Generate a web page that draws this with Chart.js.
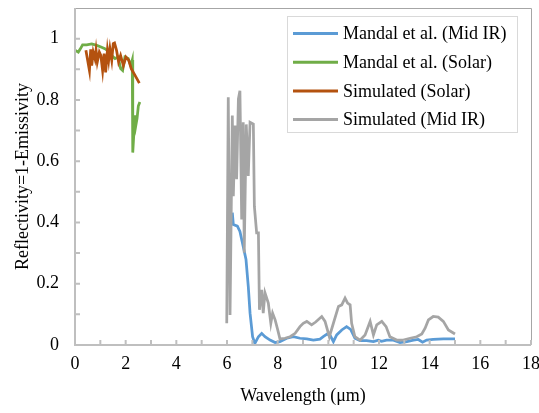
<!DOCTYPE html>
<html lang="en">
<head>
    <meta charset="UTF-8">
    <title>Reflectivity</title>
    <script src="https://cdn.jsdelivr.net/npm/chart.js@4/dist/chart.umd.min.js"></script>
    <style>
        html, body { margin: 0; padding: 0; background: #fff; }
        #wrap { width: 539px; height: 413px; }
    </style>
</head>
<body>
<div id="wrap"><canvas id="myChart" width="539" height="413"></canvas></div>
<script>

    // series: wavelength (µm) and reflectivity
    const mandalIrX = [6.21, 6.25, 6.41, 6.51, 6.64, 6.75, 6.84, 6.91, 7.01, 7.10, 7.24, 7.37, 7.50, 7.70, 7.90, 8.09, 8.36, 8.62, 8.88, 9.15, 9.41, 9.67, 9.80, 9.96, 10.08, 10.20, 10.33, 10.53, 10.72, 10.88, 11.05, 11.25, 11.51, 11.78, 11.97, 12.10, 12.30, 12.57, 12.83, 13.10, 13.36, 13.55, 13.72, 13.88, 14.14, 14.54, 15.00];
    const mandalIrY = [0.432, 0.393, 0.388, 0.371, 0.322, 0.279, 0.191, 0.104, 0.027, 0.005, 0.027, 0.038, 0.027, 0.016, 0.008, 0.011, 0.022, 0.027, 0.022, 0.020, 0.016, 0.019, 0.027, 0.036, 0.030, 0.011, 0.033, 0.049, 0.060, 0.051, 0.022, 0.014, 0.014, 0.011, 0.016, 0.012, 0.016, 0.016, 0.008, 0.011, 0.016, 0.018, 0.009, 0.016, 0.018, 0.020, 0.020];

    const mandalSolarX = [0, 0.13, 0.20, 0.30, 0.46, 0.66, 0.86, 1.05, 1.18, 1.36, 1.45, 1.58, 1.71, 1.80, 1.88, 1.97, 2.10, 2.20, 2.26, 2.28, 2.33, 2.36, 2.40, 2.45, 2.50, 2.56];
    const mandalSolarY = [0.962, 0.956, 0.965, 0.980, 0.980, 0.983, 0.978, 0.972, 0.967, 0.956, 0.945, 0.935, 0.940, 0.902, 0.896, 0.940, 0.935, 0.912, 0.930, 0.628, 0.700, 0.750, 0.716, 0.740, 0.780, 0.793];

    const simSolarX = [0.43, 0.57, 0.62, 0.66, 0.72, 0.79, 0.83, 0.88, 0.96, 1.02, 1.09, 1.15, 1.21, 1.28, 1.33, 1.38, 1.45, 1.51, 1.56, 1.64, 1.72, 1.80, 1.91, 2.01, 2.12, 2.22, 2.37, 2.54];
    const simSolarY = [0.962, 0.896, 0.965, 0.912, 0.956, 0.934, 0.962, 0.924, 0.956, 0.945, 0.896, 0.951, 0.890, 0.962, 0.930, 0.967, 0.930, 0.984, 0.986, 0.962, 0.924, 0.945, 0.912, 0.940, 0.930, 0.902, 0.880, 0.855];

    const simIrX = [5.99, 6.05, 6.12, 6.21, 6.25, 6.32, 6.38, 6.45, 6.51, 6.58, 6.64, 6.68, 6.76, 6.84, 6.91, 7.04, 7.08, 7.17, 7.24, 7.28, 7.37, 7.43, 7.50, 7.63, 7.73, 7.80, 7.90, 8.00, 8.09, 8.29, 8.49, 8.69, 8.88, 9.01, 9.15, 9.34, 9.50, 9.74, 9.87, 10.04, 10.20, 10.40, 10.53, 10.66, 10.76, 10.86, 10.92, 11.05, 11.25, 11.45, 11.65, 11.78, 11.91, 12.11, 12.28, 12.43, 12.70, 12.96, 13.23, 13.49, 13.69, 13.82, 13.95, 14.14, 14.34, 14.54, 14.74, 15.00];
    const simIrY = [0.071, 0.809, 0.098, 0.749, 0.486, 0.716, 0.541, 0.803, 0.830, 0.410, 0.727, 0.301, 0.720, 0.552, 0.727, 0.721, 0.453, 0.366, 0.366, 0.115, 0.180, 0.104, 0.170, 0.137, 0.071, 0.104, 0.082, 0.050, 0.020, 0.022, 0.027, 0.038, 0.060, 0.071, 0.077, 0.066, 0.075, 0.093, 0.077, 0.027, 0.071, 0.126, 0.131, 0.153, 0.137, 0.131, 0.071, 0.027, 0.016, 0.033, 0.077, 0.033, 0.066, 0.077, 0.060, 0.027, 0.016, 0.016, 0.022, 0.027, 0.036, 0.055, 0.082, 0.093, 0.091, 0.077, 0.049, 0.036];

    const seriesLabels = ['Mandal et al. (Mid IR)', 'Mandal et al. (Solar)', 'Simulated (Solar)', 'Simulated (Mid IR)'];
    const seriesColors = ['#5b9bd5', '#70ad47', '#b4520f', '#a5a5a5'];

    function toPoints( xs, ys ) {
        return xs.map( (x, i) => ({ x: x, y: ys[i] }) );
    }

    const serifFont = "'Liberation Serif', 'Times New Roman', serif";

    // plot border, inward tick marks and the boxed legend
    const excelLook = {
        id: 'excelLook',
        afterDraw( chart ) {
            const ctx = chart.ctx;
            const ca = chart.chartArea;
            const xs = chart.scales.x;
            const ys = chart.scales.y;
            ctx.save();

            ctx.strokeStyle = '#a6a6a6';
            ctx.lineWidth = 1;
            ctx.beginPath();
            ctx.moveTo( ca.left, ca.top + 0.5 );
            ctx.lineTo( ca.right + 0.5, ca.top + 0.5 );
            ctx.lineTo( ca.right + 0.5, ca.bottom );
            ctx.stroke();

            ctx.strokeStyle = '#bfbfbf';
            ctx.lineWidth = 2;
            ctx.beginPath();
            ctx.moveTo( ca.left, ca.top );
            ctx.lineTo( ca.left, ca.bottom );
            ctx.lineTo( ca.right, ca.bottom );
            for ( const t of xs.ticks ) {
                const px = xs.getPixelForValue( t.value );
                ctx.moveTo( px, ca.bottom );
                ctx.lineTo( px, ca.bottom - 5 );
            }
            for ( const t of ys.ticks ) {
                if ( t.value > 1.05 ) continue;
                const py = ys.getPixelForValue( t.value );
                ctx.moveTo( ca.left, py );
                ctx.lineTo( ca.left + 5, py );
            }
            ctx.stroke();

            // legend box
            const bx = ca.left + 212, by = ca.top + 8, bw = 230, bh = 116;
            ctx.fillStyle = '#ffffff';
            ctx.fillRect( bx, by, bw, bh );
            ctx.strokeStyle = '#d9d9d9';
            ctx.lineWidth = 1;
            ctx.strokeRect( bx + 0.5, by + 0.5, bw, bh );
            ctx.font = '18px ' + serifFont;
            ctx.textBaseline = 'middle';
            ctx.textAlign = 'left';
            chart.data.datasets.forEach( (ds, i) => {
                const ly = by + 17.5 + i * 28.7;
                ctx.strokeStyle = ds.borderColor;
                ctx.lineWidth = 3;
                ctx.beginPath();
                ctx.moveTo( bx + 6, ly );
                ctx.lineTo( bx + 51, ly );
                ctx.stroke();
                ctx.fillStyle = '#000000';
                ctx.fillText( ds.label, bx + 56, ly + 1 );
            });

            ctx.restore();
        }
    };

    const ctx = document.getElementById('myChart').getContext('2d');
    const myChart = new Chart(ctx, {
        type: 'line',
        data: {
            datasets: [
                { label: seriesLabels[0], data: toPoints(mandalIrX, mandalIrY), borderColor: seriesColors[0], order: 3 },
                { label: seriesLabels[1], data: toPoints(mandalSolarX, mandalSolarY), borderColor: seriesColors[1], order: 2 },
                { label: seriesLabels[2], data: toPoints(simSolarX, simSolarY), borderColor: seriesColors[2], order: 1 },
                { label: seriesLabels[3], data: toPoints(simIrX, simIrY), borderColor: seriesColors[3], order: 0 }
            ]
        },
        options: {
            responsive: false,
            animation: false,
            events: [],
            datasets: {
                line: { borderWidth: 2.75, pointRadius: 0, tension: 0, fill: false }
            },
            layout: { padding: { left: 0, right: 8, top: 8, bottom: 0 } },
            plugins: {
                legend: { display: false },
                tooltip: { enabled: false }
            },
            scales: {
                x: {
                    type: 'linear',
                    min: 0,
                    max: 18,
                    grid: { display: false, drawTicks: false },
                    border: { display: false },
                    ticks: {
                        stepSize: 1,
                        autoSkip: false,
                        maxRotation: 0,
                        padding: 8,
                        color: '#000',
                        font: { family: serifFont, size: 18 },
                        callback: (v) => (Math.round(v) % 2 === 0 ? String(Math.round(v)) : '')
                    },
                    title: {
                        display: true,
                        text: 'Wavelength (μm)',
                        color: '#000',
                        font: { family: serifFont, size: 18 },
                        padding: { top: 0, bottom: 6 }
                    },
                    afterFit: (scale) => {
                        scale.height = 68;
                        scale.paddingLeft = 0;
                        scale.paddingRight = 0;
                    }
                },
                y: {
                    min: 0,
                    max: 1.1,
                    grid: { display: false, drawTicks: false },
                    border: { display: false },
                    ticks: {
                        stepSize: 0.1,
                        autoSkip: false,
                        padding: 16,
                        color: '#000',
                        font: { family: serifFont, size: 18 },
                        callback: (v) => {
                            const k = Math.round(v * 10);
                            return (k % 2 === 0 && k <= 10) ? String(k / 10) : '';
                        }
                    },
                    title: {
                        display: true,
                        text: 'Reflectivity=1-Emissivity',
                        color: '#000',
                        font: { family: serifFont, size: 18 },
                        padding: { top: 12, bottom: 0 }
                    },
                    afterFit: (scale) => {
                        scale.width = 75;
                        scale.paddingTop = 0;
                        scale.paddingBottom = 0;
                    }
                }
            }
        },
        plugins: [excelLook]
    });
</script>
</body>
</html>
